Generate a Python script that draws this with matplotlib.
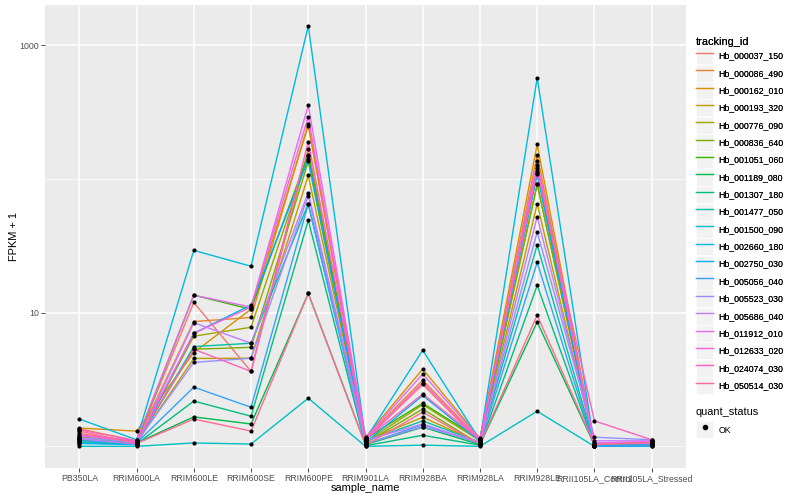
import numpy as np
import matplotlib
matplotlib.use("Agg")
import matplotlib.pyplot as plt
from matplotlib.lines import Line2D
from matplotlib.patches import Rectangle
from matplotlib.legend_handler import HandlerLine2D

plt.rcParams['font.family'] = ['Liberation Sans', 'DejaVu Sans']

samples = ["PB350LA", "RRIM600LA", "RRIM600LE", "RRIM600SE", "RRIM600PE",
           "RRIM901LA", "RRIM928BA", "RRIM928LA", "RRIM928LE",
           "RRII105LA_Control", "RRII105LA_Stressed"]

# FPKM + 1, one list per gene, in sample order
hb_000037_150 = [1.25, 1.08, 11.9, 3.63, 168, 1.12, 2.9, 1.08, 120, 1.02, 1.05]
hb_000086_490 = [1.35, 1.10, 8.57, 9.2, 259, 1.15, 3.13, 1.12, 152, 1.03, 1.04]
hb_000162_010 = [1.37, 1.30, 5.03, 10.6, 250, 1.17, 3.78, 1.15, 181, 1.05, 1.06]
hb_000193_320 = [1.15, 1.06, 4.54, 4.56, 106, 1.10, 1.65, 1.06, 65, 1.02, 1.03]
hb_000776_090 = [1.12, 1.05, 6.66, 7.77, 147, 1.08, 2.05, 1.10, 91, 1.04, 1.07]
hb_000836_640 = [1.18, 1.07, 5.32, 5.5, 135, 1.06, 1.9, 1.04, 91, 1.03, 1.08]
hb_001051_060 = [1.10, 1.09, 13.5, 10.6, 152, 1.14, 2.1, 1.13, 110, 1.01, 1.06]
hb_001189_080 = [1.13, 1.06, 1.66, 1.47, 13.9, 1.03, 1.39, 1.03, 8.5, 1.02, 1.06]
hb_001307_180 = [1.06, 1.04, 2.18, 1.68, 49, 1.01, 1.21, 1.02, 16, 1.01, 1.02]
hb_001477_050 = [1.08, 1.05, 5.57, 5.9, 65, 1.09, 1.55, 1.07, 32, 1.02, 1.03]
hb_001500_090 = [1.0, 1.0, 1.06, 1.04, 2.29, 1.0, 1.02, 1.0, 1.83, 1.0, 1.0]
hb_002660_180 = [1.60, 1.12, 29.2, 22.2, 1393, 1.13, 5.23, 1.11, 570, 1.01, 1.02]
hb_002750_030 = [1.05, 1.03, 7.0, 11.4, 140, 1.07, 2.4, 1.09, 108, 1.0, 1.02]
hb_005056_040 = [1.10, 1.06, 2.77, 1.96, 65, 1.04, 1.45, 1.05, 23.7, 1.0, 1.01]
hb_005523_030 = [1.16, 1.08, 4.24, 4.56, 75, 1.05, 1.4, 1.08, 40, 1.17, 1.12]
hb_005686_040 = [1.14, 1.04, 8.4, 5.9, 79, 1.11, 1.47, 1.06, 52, 1.10, 1.10]
hb_011912_010 = [1.20, 1.11, 13.5, 11.0, 355, 1.16, 3.47, 1.14, 135, 1.06, 1.09]
hb_012633_020 = [1.22, 1.07, 7.0, 11.0, 292, 1.12, 3.0, 1.10, 128, 1.04, 1.05]
hb_024074_030 = [1.33, 1.10, 5.32, 3.63, 190, 1.13, 2.46, 1.12, 115, 1.55, 1.12]
hb_050514_030 = [1.30, 1.05, 1.60, 1.30, 13.9, 1.02, 1.8, 1.04, 9.55, 1.03, 1.07]

gene_ids = ["Hb_000037_150", "Hb_000086_490", "Hb_000162_010", "Hb_000193_320",
            "Hb_000776_090", "Hb_000836_640", "Hb_001051_060", "Hb_001189_080",
            "Hb_001307_180", "Hb_001477_050", "Hb_001500_090", "Hb_002660_180",
            "Hb_002750_030", "Hb_005056_040", "Hb_005523_030", "Hb_005686_040",
            "Hb_011912_010", "Hb_012633_020", "Hb_024074_030", "Hb_050514_030"]
gene_vals = [hb_000037_150, hb_000086_490, hb_000162_010, hb_000193_320,
             hb_000776_090, hb_000836_640, hb_001051_060, hb_001189_080,
             hb_001307_180, hb_001477_050, hb_001500_090, hb_002660_180,
             hb_002750_030, hb_005056_040, hb_005523_030, hb_005686_040,
             hb_011912_010, hb_012633_020, hb_024074_030, hb_050514_030]

# ggplot default hue palette for 20 levels
colors = ["#F8766D", "#EA8331", "#D89000", "#C09B00", "#A3A500", "#7CAE00",
          "#39B600", "#00BB4E", "#00BF7D", "#00C1A3", "#00BFC4", "#00BAE0",
          "#00B0F6", "#35A2FF", "#9590FF", "#C77CFF", "#E76BF3", "#FA62DB",
          "#FF62BC", "#FF6C91"]

fig = plt.figure(figsize=(8, 5), dpi=100)
ax = fig.add_axes([45/800, 1 - 468/500, (686 - 45)/800, (468 - 5)/500])
ax.set_facecolor("#EBEBEB")

x = np.arange(len(samples))
for vals, c in zip(gene_vals, colors):
    ax.plot(x, vals, color=c, lw=1.0, zorder=3)
for vals in gene_vals:
    ax.scatter(x, vals, s=9, marker='o', color='black', linewidths=0, zorder=4)

ax.set_yscale('log')
ax.set_ylim(10**-0.162, 10**3.30)
ax.set_xlim(-0.6, len(samples) - 0.4)
ax.set_yticks([10, 1000])
ax.set_yticklabels(["10", "1000"])
ax.set_yticks([1, 100], minor=True)
ax.set_yticklabels([], minor=True)
ax.set_xticks(x)
ax.set_xticklabels(samples)

ax.grid(which='major', color='white', lw=1.1, zorder=0)
ax.grid(which='minor', axis='y', color='white', lw=0.5, zorder=0)
ax.set_axisbelow(True)
for s in ax.spines.values():
    s.set_visible(False)
ax.tick_params(which='major', length=3, width=0.6, color='#333333',
               labelsize=6.3, labelcolor='#4D4D4D', pad=1.5)
ax.tick_params(which='minor', length=0)

ax.set_xlabel("sample_name", fontsize=7.9, labelpad=0)
ax.set_ylabel("FPKM + 1", fontsize=7.9)
ax.yaxis.set_label_coords(-0.04, 0.5)


class KeyHandler(HandlerLine2D):
    def create_artists(self, legend, orig_handle, xdescent, ydescent,
                       width, height, fontsize, trans):
        arts = super().create_artists(legend, orig_handle, xdescent, ydescent,
                                      width, height, fontsize, trans)
        bg = Rectangle((-xdescent, -ydescent), width, height,
                       facecolor='#F2F2F2', edgecolor='white', lw=0.5,
                       transform=trans)
        return [bg] + arts


fs = 6.3
key_pt = 17 * 0.72
hh = (key_pt / fs - 0.245) / 0.65
handles = [Line2D([], [], color=c, lw=1.0) for c in colors]
leg1 = fig.legend(handles, gene_ids, title="tracking_id", loc='upper left',
                  bbox_to_anchor=(696/800, 1 - 37/500), frameon=False,
                  fontsize=fs, title_fontsize=7.9, alignment='left',
                  handlelength=key_pt/fs, handleheight=hh,
                  handletextpad=0.6, labelspacing=0.04, borderpad=0,
                  borderaxespad=0,
                  handler_map={Line2D: KeyHandler()})
fig.add_artist(leg1)

ok_handle = Line2D([], [], color='black', marker='o', markersize=3, lw=0)
leg2 = fig.legend([ok_handle], ["OK"], title="quant_status", loc='upper left',
                  bbox_to_anchor=(696/800, 1 - 407/500), frameon=False,
                  fontsize=fs, title_fontsize=7.9, alignment='left',
                  handlelength=key_pt/fs, handleheight=hh,
                  handletextpad=0.6, borderpad=0, borderaxespad=0,
                  handler_map={Line2D: KeyHandler()})

fig.savefig("out.png", dpi=100)
